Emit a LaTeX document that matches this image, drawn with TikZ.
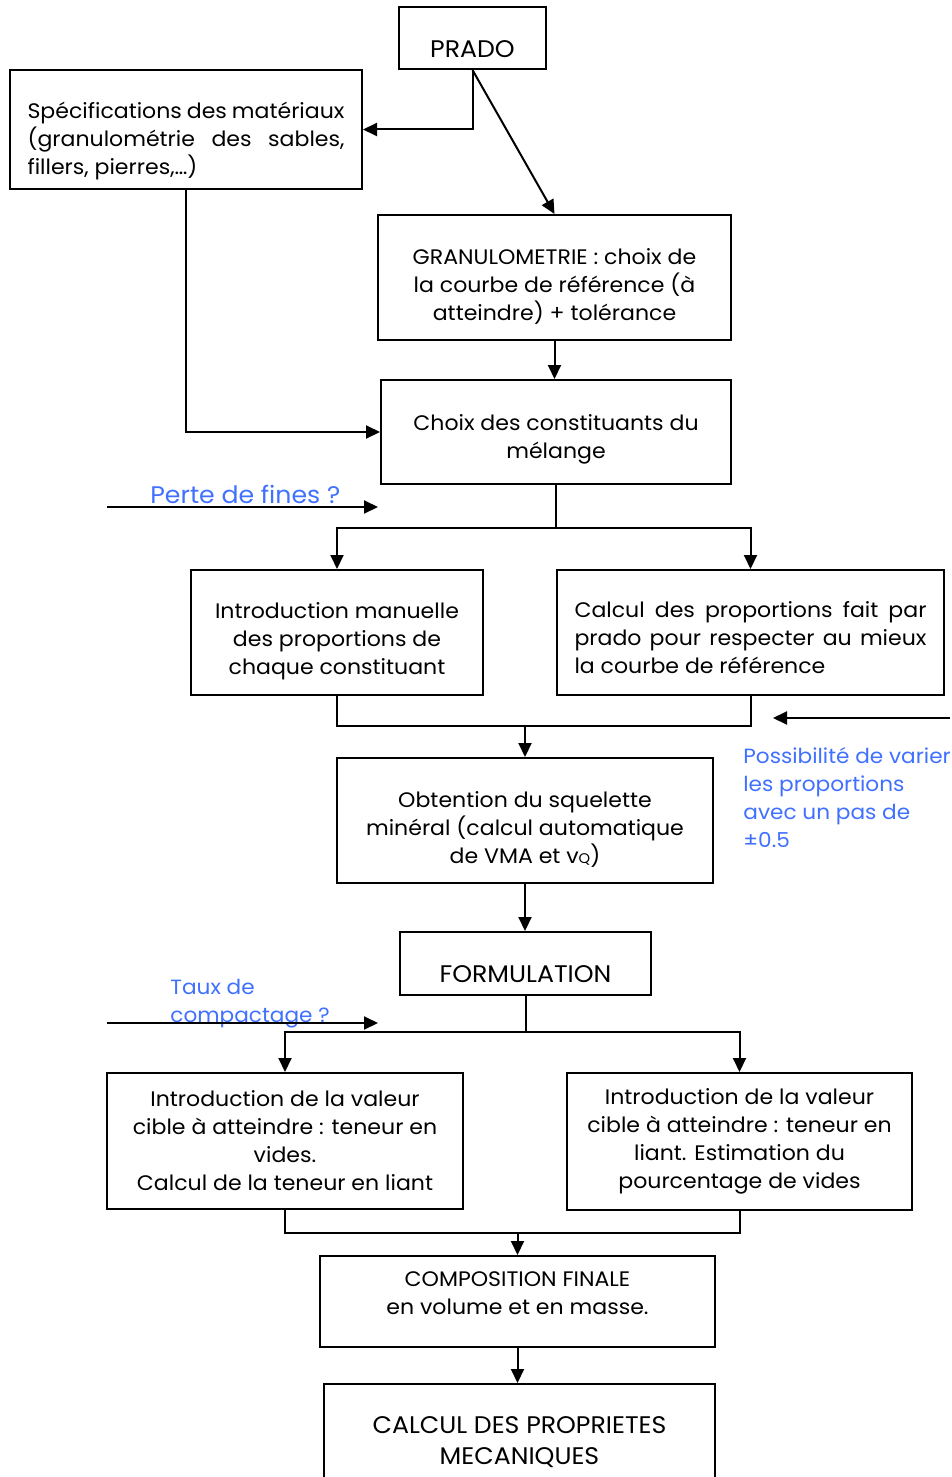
\documentclass[tikz,border=0pt]{standalone}
\usepackage{fontspec}
\setmainfont{Poppins}[FakeStretch=1.05]
\usetikzlibrary{arrows.meta}
\definecolor{noteblue}{RGB}{64,112,255}
\newcommand\topstrut[1]{\rule{0pt}{#1}}

\begin{document}
\begin{tikzpicture}[x=0.5pt,y=-0.5pt,
  box/.style={draw, line width=1pt, align=center, inner sep=0pt,
    font=\fontsize{10.5}{14}\selectfont},
  bigbox/.style={box, font=\fontsize{12}{15.5}\selectfont},
  note/.style={noteblue, align=left, inner sep=0pt,
    font=\fontsize{10.3}{14}\selectfont},
  arr/.style={-{Triangle[length=7pt,width=6.5pt]}, line width=1pt},
  link/.style={line width=1pt}]
\useasboundingbox (0,0) rectangle (952,1477);

% boxes
\node [bigbox, minimum width=73.5pt, minimum height=31pt, text height=19.5pt, text depth=0pt] (prado) at (472.5,38) {PRADO};
\node [box, minimum width=176pt, minimum height=59.5pt, text width=158.5pt, align=justify] (spec) at (186,129.5)
  {\topstrut{20pt}Spécifications des matériaux\linebreak (granulométrie des sables,\linebreak fillers, pierres,…)};
\node [box, minimum width=176.5pt, minimum height=62.5pt] (granulo) at (554.5,277.5)
  {\topstrut{16.8pt}GRANULOMETRIE : choix de\\la courbe de référence (à\\atteindre) + tolérance};
\node [box, minimum width=175pt, minimum height=52pt] (choix) at (556,432)
  {\topstrut{15.8pt}Choix des constituants du\\mélange};
\node [box, minimum width=146pt, minimum height=62.5pt] (manu) at (337,632.5)
  {\topstrut{16.8pt}Introduction manuelle\\des proportions de\\chaque constituant};
\node [box, minimum width=193.5pt, minimum height=62.5pt, text width=176pt, align=justify] (calc) at (750.5,632.5)
  {\topstrut{12.8pt}Calcul des proportions fait par\linebreak prado pour respecter au mieux\linebreak la courbe de référence};
\node [box, minimum width=188pt, minimum height=62.5pt] (obt) at (525,820.5)
  {\topstrut{16.8pt}Obtention du squelette\\minéral (calcul automatique\\de VMA et v{\fontsize{7}{7}\selectfont Q})};
\node [bigbox, minimum width=125.5pt, minimum height=31.5pt, text height=19pt, text depth=0pt] (formu) at (525.5,963.5) {FORMULATION};
\node [box, minimum width=178pt, minimum height=68pt] (vleft) at (285,1141)
  {Introduction de la valeur\\cible à atteindre : teneur en\\vides.\\Calcul de la teneur en liant};
\node [box, minimum width=172.5pt, minimum height=68.5pt] (vright) at (739.5,1141.5)
  {Introduction de la valeur\\cible à atteindre : teneur en\\liant. Estimation du\\pourcentage de vides};
\node [box, minimum width=197.5pt, minimum height=45.5pt, text depth=8pt] (compo) at (517.5,1301.5)
  {COMPOSITION FINALE\\en volume et en masse.};
\node [bigbox, anchor=north, minimum width=195.5pt, inner ysep=16.5pt, text depth=50pt] (calcul) at (519.5,1383)
  {CALCUL DES PROPRIETES\\MECANIQUES};

% notes
\node [note, anchor=base west, font=\fontsize{12}{14}\selectfont] (perte) at (150,503) {Perte de fines ?};
\node [note, anchor=north west] (taux) at (170,979) {Taux de\\compactage ?};
\node [note, anchor=north west] (pas) at (743,747) {Possibilité de varier\\les proportions\\avec un pas de\\±0.5};

\coordinate (p1) at (107,507);
\coordinate (p2) at (378,507);
\coordinate (t1) at (107,1023);
\coordinate (t2) at (378,1023);
\coordinate (v1) at (950,718);
\coordinate (v2) at (773,718);

% connectors
\draw [arr] (prado.south) |- (spec.east);
\draw [arr] (prado.south) -- (granulo.north);
\draw [arr] (granulo.south) -- (granulo.south |- choix.north);
\draw [arr] (spec.south) |- (choix.west);
\draw [link] (choix.south) -- ++(0,43) coordinate (j1);
\draw [arr] (j1) -| (manu.north);
\draw [arr] (j1) -| (calc.north);
\draw [link] (manu.south) |- (525,726) coordinate (j2) -| (calc.south);
\draw [arr] (j2) -- (obt.north);
\draw [arr] (obt.south) -- (obt.south |- formu.north);
\draw [link] (formu.south) -- ++(0,36) coordinate (j3);
\draw [arr] (j3) -| (vleft.north);
\draw [arr] (j3) -| (vright.north);
\draw [link] (vleft.south) |- (517.5,1233) coordinate (j4) -| (vright.south);
\draw [arr] (j4) -- (compo.north);
\draw [arr] (compo.south) -- (compo.south |- calcul.north);
\draw [arr] (p1) -- (p2);
\draw [arr] (t1) -- (t2);
\draw [arr] (v1) -- (v2);
\end{tikzpicture}
\end{document}
